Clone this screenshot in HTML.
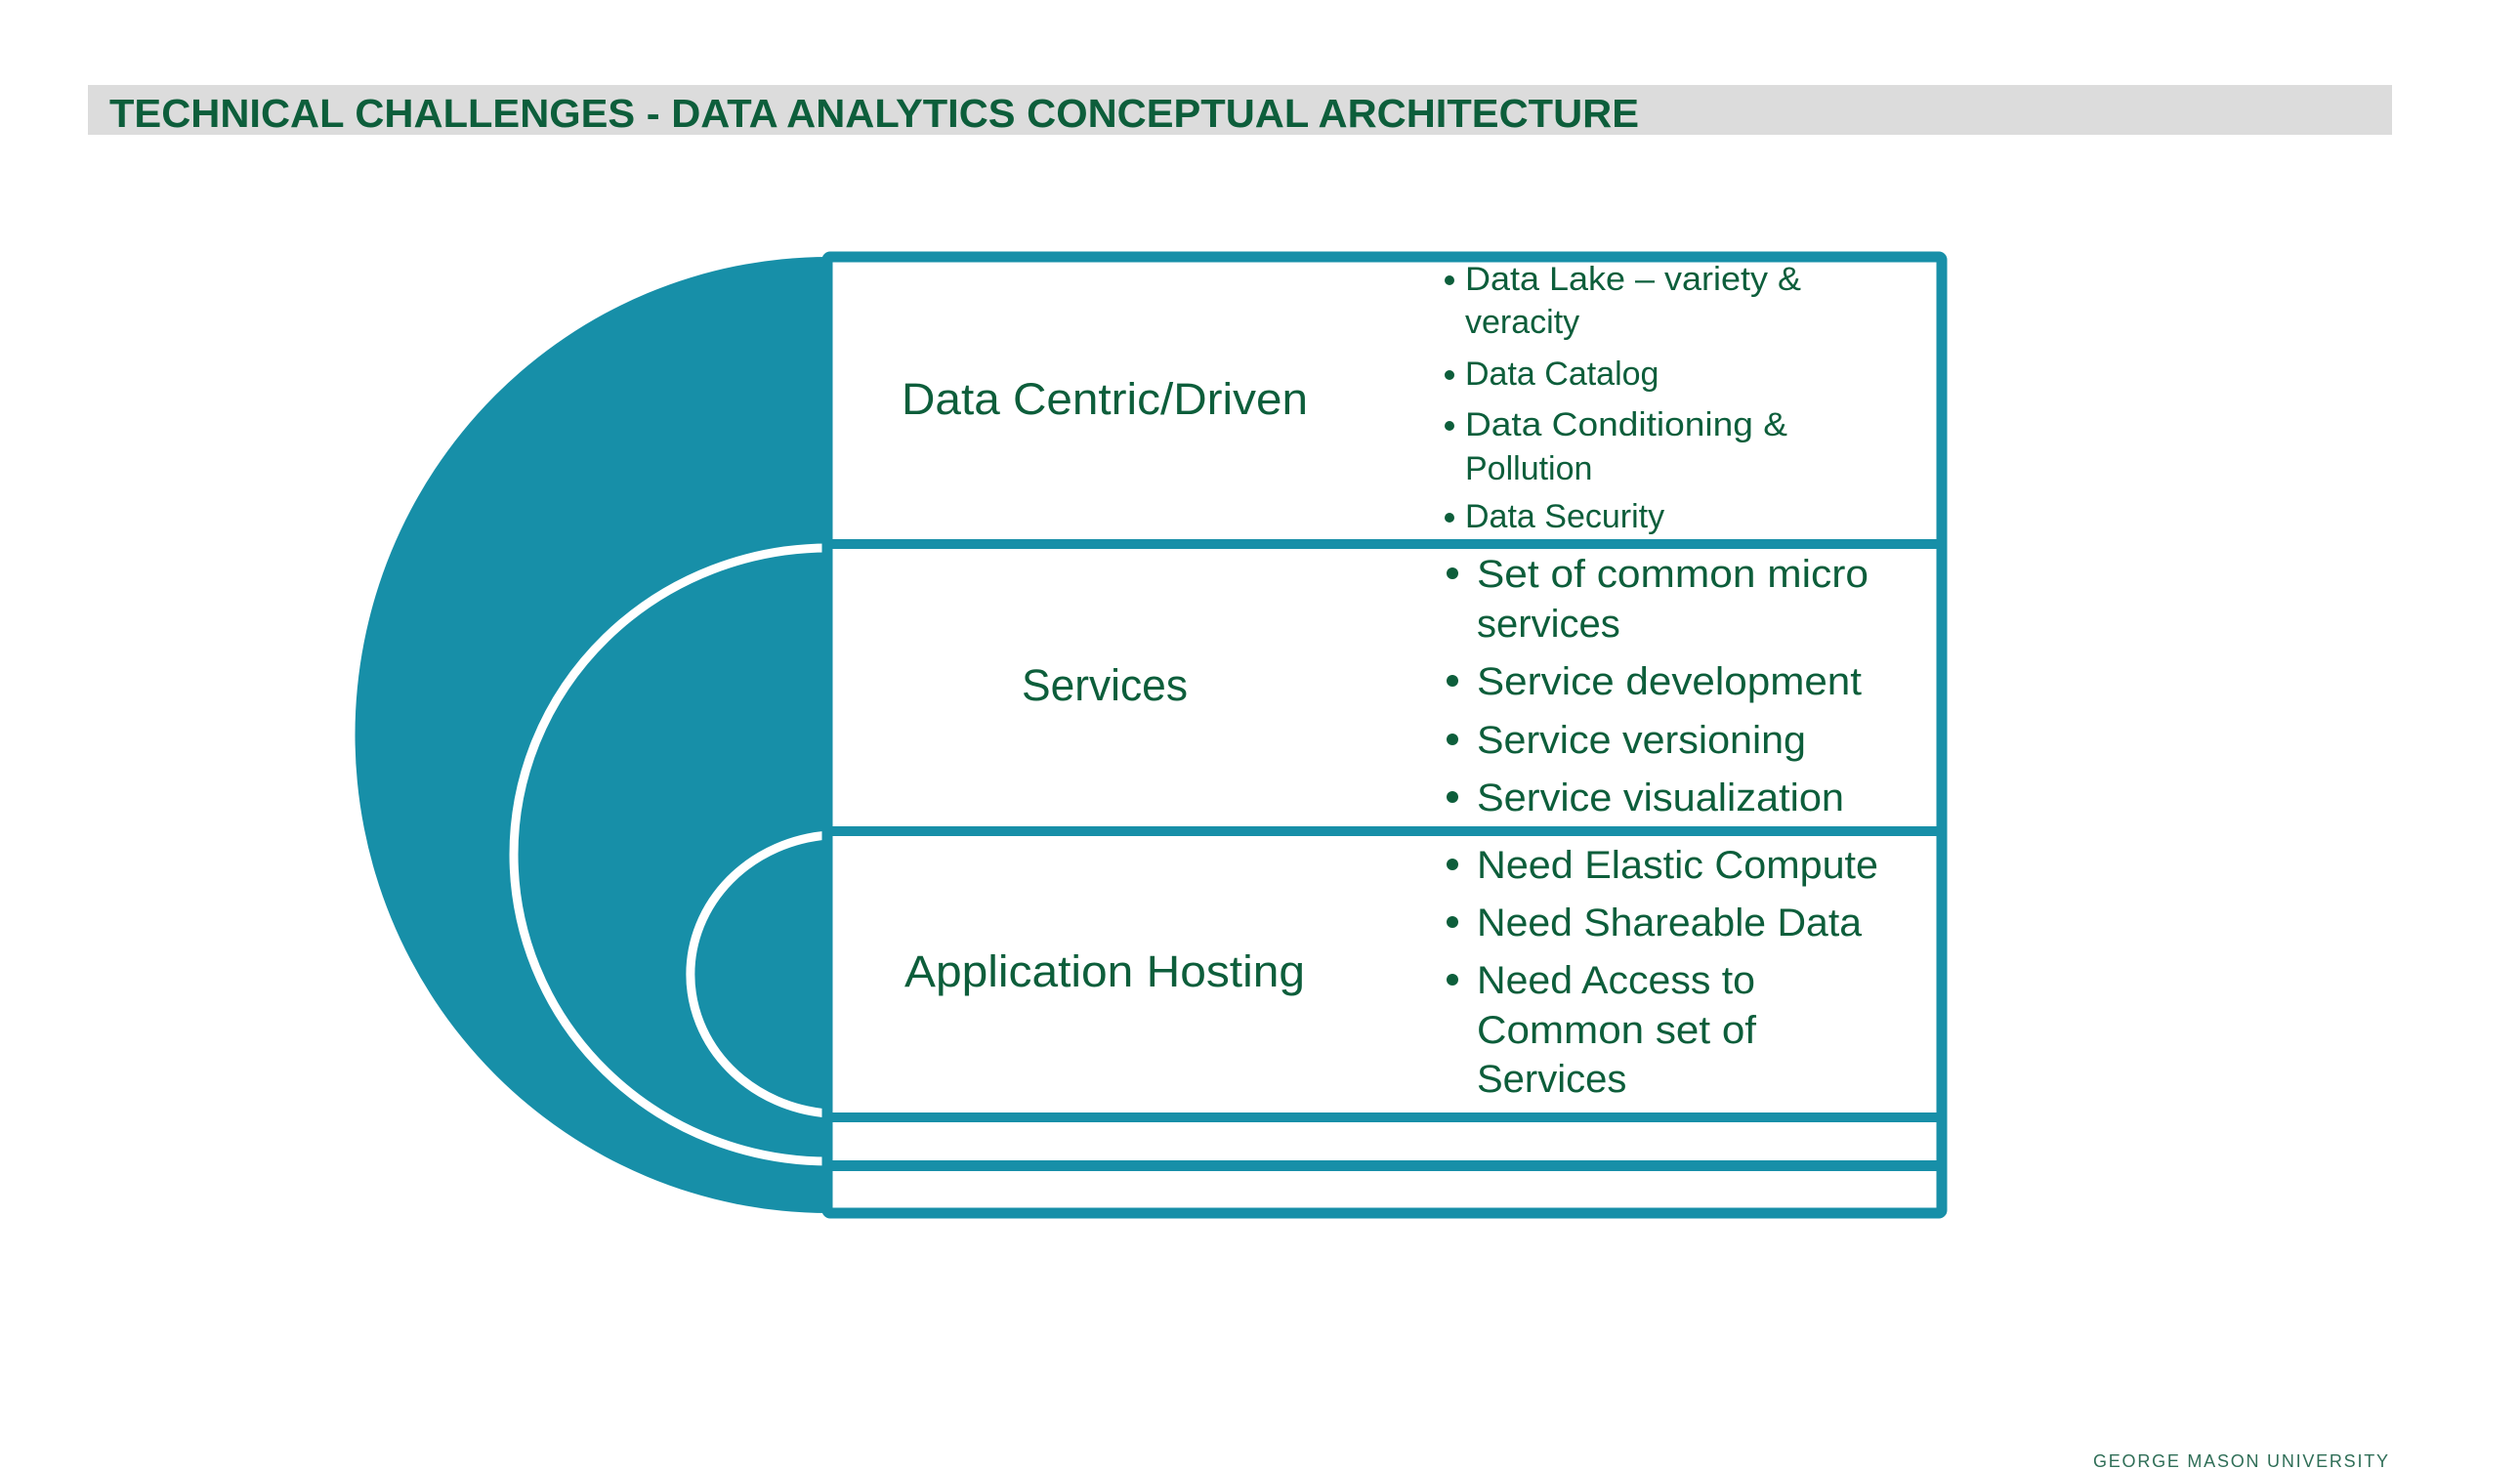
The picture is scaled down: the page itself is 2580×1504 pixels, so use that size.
<!DOCTYPE html>
<html><head><meta charset="utf-8"><style>
html,body{margin:0;padding:0;background:#fff;}
svg{display:block;}
text{font-family:"Liberation Sans",sans-serif;fill:#0d5e3b;}
</style></head><body>
<svg width="2580" height="1504" viewBox="0 0 2580 1504" xmlns="http://www.w3.org/2000/svg">
<rect x="0" y="0" width="2580" height="1504" fill="#fff"/>
<rect x="90" y="87" width="2359" height="51" fill="#dcdcdc"/>
<text x="112" y="130" font-size="41" font-weight="bold" textLength="1566" lengthAdjust="spacingAndGlyphs">TECHNICAL CHALLENGES - DATA ANALYTICS CONCEPTUAL ARCHITECTURE</text>

<path d="M848 263 A484 489 0 0 0 848 1242 Z" fill="#178fa8"/>
<path d="M848 561 A322 314 0 0 0 848 1189" fill="none" stroke="#fff" stroke-width="9"/>
<path d="M848 855 A154 143 0 0 0 848 1140" fill="none" stroke="#fff" stroke-width="9"/>

<rect x="852" y="269" width="1131" height="967" fill="#fff"/>
<rect x="847" y="263" width="1141" height="979" fill="none" stroke="#178fa8" stroke-width="11" rx="3"/>
<rect x="847" y="552" width="1141" height="10" fill="#178fa8"/>
<rect x="847" y="846" width="1141" height="10" fill="#178fa8"/>
<rect x="847" y="1139" width="1141" height="10" fill="#178fa8"/>
<rect x="847" y="1188" width="1141" height="11" fill="#178fa8"/>

<text x="923" y="424" font-size="45" textLength="416" lengthAdjust="spacingAndGlyphs">Data Centric/Driven</text>
<text x="1046" y="717" font-size="45" textLength="170" lengthAdjust="spacingAndGlyphs">Services</text>
<text x="926" y="1010" font-size="45" textLength="410" lengthAdjust="spacingAndGlyphs">Application Hosting</text>

<g font-size="34">
<circle cx="1484" cy="287" r="5" fill="#0d5e3b"/>
<text x="1500" y="297" textLength="344" lengthAdjust="spacingAndGlyphs">Data Lake – variety &amp;</text>
<text x="1500" y="341">veracity</text>
<circle cx="1484" cy="384" r="5" fill="#0d5e3b"/>
<text x="1500" y="394">Data Catalog</text>
<circle cx="1484" cy="436" r="5" fill="#0d5e3b"/>
<text x="1500" y="446" textLength="330" lengthAdjust="spacingAndGlyphs">Data Conditioning &amp;</text>
<text x="1500" y="491">Pollution</text>
<circle cx="1484" cy="530" r="5" fill="#0d5e3b"/>
<text x="1500" y="540">Data Security</text>
</g>

<g font-size="40">
<circle cx="1487" cy="587" r="6" fill="#0d5e3b"/>
<text x="1512" y="601" textLength="401" lengthAdjust="spacingAndGlyphs">Set of common micro</text>
<text x="1512" y="652">services</text>
<circle cx="1487" cy="697" r="6" fill="#0d5e3b"/>
<text x="1512" y="711" textLength="394" lengthAdjust="spacingAndGlyphs">Service development</text>
<circle cx="1487" cy="757" r="6" fill="#0d5e3b"/>
<text x="1512" y="771" textLength="337" lengthAdjust="spacingAndGlyphs">Service versioning</text>
<circle cx="1487" cy="816" r="6" fill="#0d5e3b"/>
<text x="1512" y="830" textLength="376" lengthAdjust="spacingAndGlyphs">Service visualization</text>

<circle cx="1487" cy="885" r="6" fill="#0d5e3b"/>
<text x="1512" y="899" textLength="411" lengthAdjust="spacingAndGlyphs">Need Elastic Compute</text>
<circle cx="1487" cy="944" r="6" fill="#0d5e3b"/>
<text x="1512" y="958" textLength="394" lengthAdjust="spacingAndGlyphs">Need Shareable Data</text>
<circle cx="1487" cy="1003" r="6" fill="#0d5e3b"/>
<text x="1512" y="1017" textLength="285" lengthAdjust="spacingAndGlyphs">Need Access to</text>
<text x="1512" y="1068" textLength="286" lengthAdjust="spacingAndGlyphs">Common set of</text>
<text x="1512" y="1118">Services</text>
</g>

<text x="2143" y="1502" font-size="18" letter-spacing="3" style="fill:#2f6e57" textLength="305" lengthAdjust="spacing">GEORGE MASON UNIVERSITY</text>
</svg>
</body></html>
